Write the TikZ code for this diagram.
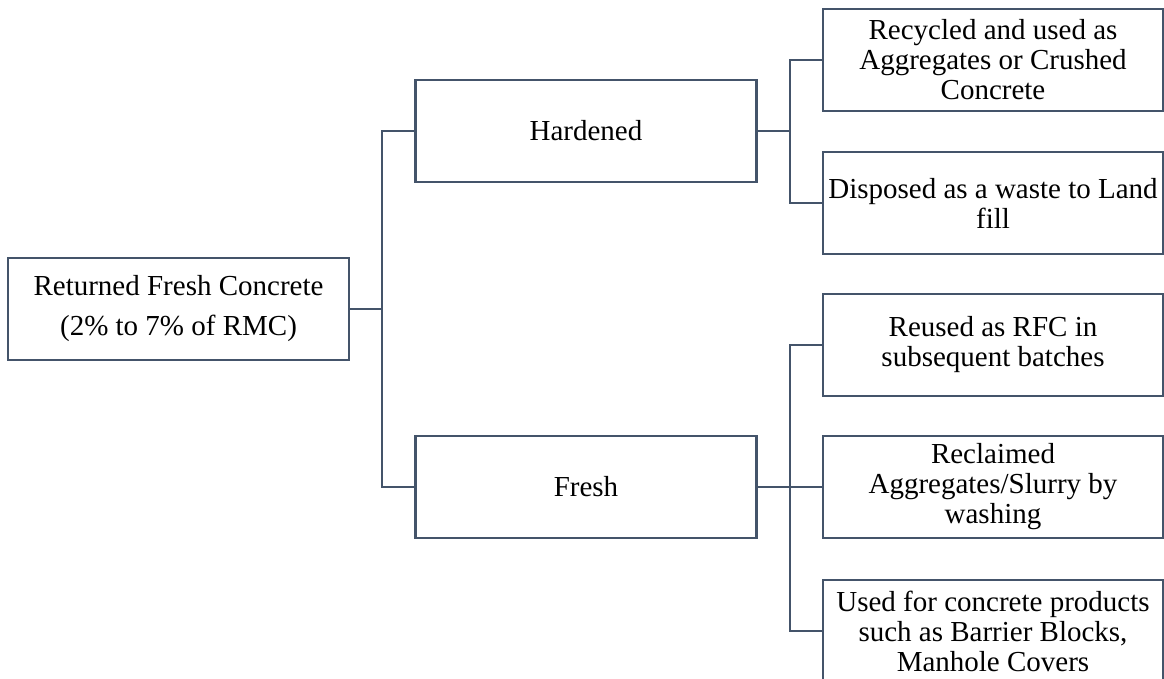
\documentclass[tikz,border=0pt]{standalone}
\usepackage{fontspec}
\setmainfont{Liberation Serif}
\definecolor{boxline}{HTML}{44546A}
\begin{document}
\begin{tikzpicture}[x=1pt,y=-1pt,
  box/.style={draw=boxline, line width=2.5pt, fill=white, rectangle,
    minimum width=341pt, minimum height=102pt, inner sep=0pt,
    align=center, font=\fontsize{29}{30}\selectfont},
  rbox/.style={box, minimum width=340pt},
  link/.style={draw=boxline, line width=2.5pt, line join=miter}]
\useasboundingbox (0,0) rectangle (1164,679);
\node[box, font=\fontsize{29}{40}\selectfont] (root) at (178.5,309) {Returned Fresh Concrete\\(2\% to 7\% of RMC)};
\node[box] (hard) at (586,131) {Hardened};
\node[box] (fresh) at (586,487) {Fresh};
\node[rbox] (r1) at (993,60) {Recycled and used as\\Aggregates or Crushed\\Concrete};
\node[rbox] (r2) at (993,203) {Disposed as a waste to Land\\fill};
\node[rbox] (r3) at (993,345) {Reused as RFC in\\subsequent batches};
\node[rbox] (r4) at (993,487) {Reclaimed\\Aggregates/Slurry by\\washing};
\node[rbox] (r5) at (993,631) {Used for concrete products\\such as Barrier Blocks,\\Manhole Covers};
\coordinate (j1) at (382,309);
\coordinate (j2) at (790,131);
\coordinate (j3) at (790,487);
\draw[link] (root.east) -- (j1);
\draw[link] (hard.west) -| (j1);
\draw[link] (fresh.west) -| (j1);
\draw[link] (hard.east) -- (j2);
\draw[link] (r1.west) -| (j2);
\draw[link] (r2.west) -| (j2);
\draw[link] (fresh.east) -- (j3);
\draw[link] (r3.west) -| (j3);
\draw[link] (r4.west) -- (j3);
\draw[link] (r5.west) -| (j3);
\end{tikzpicture}
\end{document}
